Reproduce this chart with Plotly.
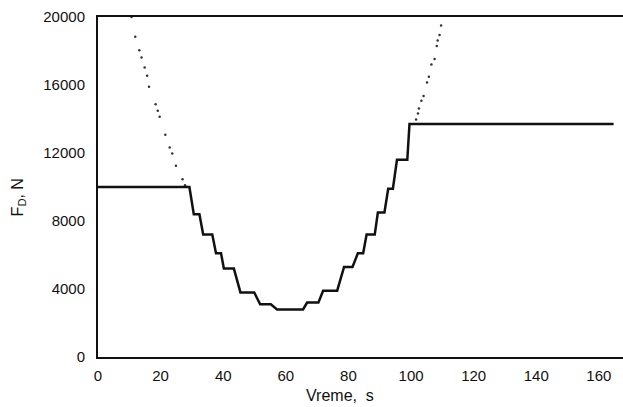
import plotly.graph_objects as go

# Stepped force curve (time s, force N)
step_t = [0, 29.2, 30.6, 32.4, 33.6, 36.5, 37.7, 39.3, 40.2, 43.4, 45.5, 49.9,
          51.8, 55.2, 57.2, 65.5, 66.8, 70.4, 71.9, 76.4, 78.6, 81.3, 83.0, 84.7,
          85.8, 88.4, 89.4, 91.5, 92.7, 94.2, 95.5, 98.8, 99.5, 164.7]
step_f = [10000, 10000, 8400, 8400, 7200, 7200, 6100, 6100, 5200, 5200, 3800, 3800,
          3100, 3100, 2800, 2800, 3200, 3200, 3900, 3900, 5300, 5300, 6100, 6100,
          7200, 7200, 8500, 8500, 9900, 9900, 11600, 11600, 13700, 13700]

# Dotted envelope curve
dot_t_left = [10.7, 11.9, 13.2, 13.9, 14.9, 15.7, 16.3, 18.4, 19.1, 19.7, 21.5,
              22.9, 23.7, 24.9, 27.0, 27.8]
dot_f_left = [20000, 18840, 18050, 17620, 17030, 16540, 15900, 14870, 14480, 14130,
              13070, 12320, 11970, 11250, 10460, 10100]
dot_t_right = [101.6, 102.2, 102.5, 103.3, 104.0, 105.1, 105.7, 106.5, 107.5, 108.2,
               108.5, 109.1, 109.6]
dot_f_right = [13970, 14330, 14620, 15070, 15360, 16140, 16480, 17200, 17530, 18300,
               18620, 18940, 19500]

x_ticks = [0, 20, 40, 60, 80, 100, 120, 140, 160]
y_ticks = [0, 4000, 8000, 12000, 16000, 20000]

ink = "#111111"
font = "Liberation Sans, Arial, sans-serif"

fig = go.Figure()
fig.add_trace(go.Scatter(x=dot_t_left, y=dot_f_left, mode="markers",
                         marker=dict(size=2.5, color="#333333"), showlegend=False))
fig.add_trace(go.Scatter(x=dot_t_right, y=dot_f_right, mode="markers",
                         marker=dict(size=2.5, color="#333333"), showlegend=False))
fig.add_trace(go.Scatter(x=step_t, y=step_f, mode="lines",
                         line=dict(color=ink, width=2.5), showlegend=False))

fig.update_layout(
    width=623, height=407,
    margin=dict(l=98, r=0, t=17, b=50),
    paper_bgcolor="white", plot_bgcolor="white",
    font=dict(family=font, size=16, color=ink),
    xaxis=dict(range=[0, 167.7], tickvals=x_ticks, ticktext=[str(v) for v in x_ticks],
               tickfont=dict(size=15, color=ink, family=font),
               showgrid=False, zeroline=False, showline=True, linecolor=ink,
               linewidth=2, mirror=True, ticks="", ticklabelstandoff=4),
    yaxis=dict(range=[0, 20000], tickvals=y_ticks, ticktext=[str(v) for v in y_ticks],
               tickfont=dict(size=15, color=ink, family=font),
               showgrid=False, zeroline=False, showline=True, linecolor=ink,
               linewidth=2, mirror=False, ticks="", ticklabelstandoff=8),
    annotations=[
        dict(text="Vreme,  s", xref="paper", yref="paper", x=0.461, y=-0.1147,
             xanchor="center", yanchor="middle", showarrow=False, borderpad=0,
             font=dict(size=16, color=ink, family=font)),
        dict(text="F<sub>D</sub>, N", xref="paper", yref="paper", x=-0.152, y=0.47,
             xanchor="center", yanchor="middle", showarrow=False, textangle=-90,
             font=dict(size=16, color=ink, family=font)),
    ],
)

fig.write_html("out.html")
